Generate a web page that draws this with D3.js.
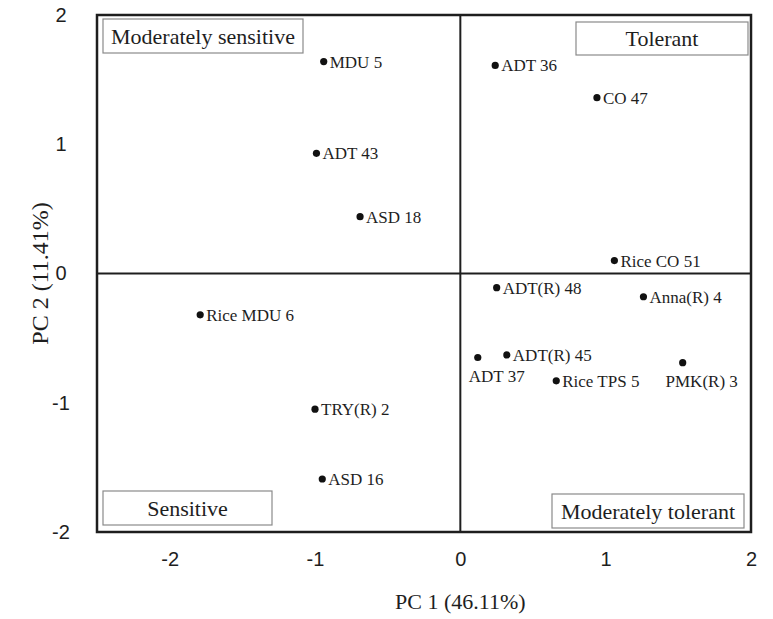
<!DOCTYPE html>
<html>
<head>
<meta charset="utf-8">
<script src="https://cdn.jsdelivr.net/npm/d3@7"></script>
<style>
  body { margin: 0; background: #fff; }
  svg { display: block; }
</style>
</head>
<body>
<div id="chart"></div>
<script>
// genotype scores on the first two principal components
const genotypes = ["MDU 5", "ADT 43", "ASD 18", "ADT 36", "CO 47", "Rice CO 51",
  "ADT(R) 48", "Anna(R) 4", "ADT 37", "ADT(R) 45", "Rice TPS 5", "PMK(R) 3",
  "Rice MDU 6", "TRY(R) 2", "ASD 16"];
const pc1 = [-0.94, -0.99, -0.69, 0.24, 0.94, 1.06, 0.25, 1.26, 0.12, 0.32, 0.66, 1.53, -1.79, -1.00, -0.95];
const pc2 = [1.64, 0.93, 0.44, 1.61, 1.36, 0.10, -0.11, -0.18, -0.65, -0.63, -0.83, -0.69, -0.32, -1.05, -1.59];
const labelBelow = ["ADT 37", "PMK(R) 3"];

const xTicks = [-2, -1, 0, 1, 2];
const yTicks = [-2, -1, 0, 1, 2];
const quadrants = ["Moderately sensitive", "Tolerant", "Sensitive", "Moderately tolerant"];

const margin = { top: 15, right: 22, bottom: 87, left: 97 };
const width = 773 - margin.left - margin.right;   // 654
const height = 619 - margin.top - margin.bottom;  // 517
const serif = "'Liberation Serif', 'Times New Roman', serif";
const sans = "'Liberation Sans', Arial, sans-serif";
const ink = "#1e1e1e";

const svg = d3.select("#chart").append("svg")
  .attr("width", 773)
  .attr("height", 619);
const g = svg.append("g")
  .attr("transform", `translate(${margin.left},${margin.top})`);

const x = d3.scaleLinear().domain([-2.5, 2]).range([0, width]);
const y = d3.scaleLinear().domain([-2, 2]).range([height, 0]);

// axes (labels only, no ticks), plain hyphen for negatives
const xAxis = g.append("g")
  .attr("transform", `translate(0,${height})`)
  .call(d3.axisBottom(x).tickValues(xTicks).tickSize(0).tickPadding(20).tickFormat(d => String(d)));
const yAxis = g.append("g")
  .call(d3.axisLeft(y).tickValues(yTicks).tickSize(0).tickPadding(36).tickFormat(d => String(d)));
[xAxis, yAxis].forEach(a => {
  a.select(".domain").remove();
  a.selectAll("text").attr("font-family", sans).attr("font-size", 20).attr("fill", ink);
});
yAxis.selectAll("text").attr("text-anchor", "middle");

// zero lines
g.append("line")
  .attr("x1", x(0)).attr("x2", x(0)).attr("y1", 0).attr("y2", height)
  .attr("stroke", ink).attr("stroke-width", 2);
g.append("line")
  .attr("x1", 0).attr("x2", width).attr("y1", y(0)).attr("y2", y(0))
  .attr("stroke", ink).attr("stroke-width", 2);

// frame
g.append("rect")
  .attr("width", width).attr("height", height)
  .attr("fill", "none").attr("stroke", ink).attr("stroke-width", 2.5);

// quadrant boxes
const boxLayout = [
  { x: 6, y: 4, w: 200, h: 34 },
  { x: width - 175, y: 7, w: 172, h: 33 },
  { x: 6, y: height - 41, w: 169, h: 34 },
  { x: width - 199, y: height - 38, w: 192, h: 34 }
];
quadrants.forEach((q, i) => {
  const b = boxLayout[i];
  g.append("rect")
    .attr("x", b.x).attr("y", b.y).attr("width", b.w).attr("height", b.h)
    .attr("fill", "#fff").attr("stroke", "#8a8a8a").attr("stroke-width", 1.2);
  g.append("text")
    .attr("x", b.x + b.w / 2).attr("y", b.y + b.h / 2)
    .attr("dy", "0.35em")
    .attr("text-anchor", "middle")
    .attr("font-family", serif).attr("font-size", 22).attr("fill", ink)
    .text(q);
});

// points
const pts = genotypes.map((name, i) => ({ name, px: pc1[i], py: pc2[i] }));
g.selectAll("circle.pt")
  .data(pts)
  .enter()
  .append("circle")
  .attr("class", "pt")
  .attr("cx", d => x(d.px))
  .attr("cy", d => y(d.py))
  .attr("r", 3.6)
  .attr("fill", "#111");

g.selectAll("text.lab")
  .data(pts)
  .enter()
  .append("text")
  .attr("class", "lab")
  .attr("font-family", serif).attr("font-size", 17).attr("fill", ink)
  .attr("x", d => labelBelow.includes(d.name) ? x(d.px) + 19 : x(d.px) + 6)
  .attr("y", d => labelBelow.includes(d.name) ? y(d.py) + 24 : y(d.py) + 6)
  .attr("text-anchor", d => labelBelow.includes(d.name) ? "middle" : "start")
  .text(d => d.name);

// axis titles
svg.append("text")
  .attr("x", margin.left + x(0)).attr("y", 609)
  .attr("text-anchor", "middle")
  .attr("font-family", serif).attr("font-size", 22).attr("fill", ink)
  .text("PC 1 (46.11%)");
svg.append("text")
  .attr("transform", `translate(48,${margin.top + y(0)}) rotate(-90)`)
  .attr("text-anchor", "middle")
  .attr("font-family", serif).attr("font-size", 24).attr("fill", ink)
  .text("PC 2 (11.41%)");
</script>
</body>
</html>
